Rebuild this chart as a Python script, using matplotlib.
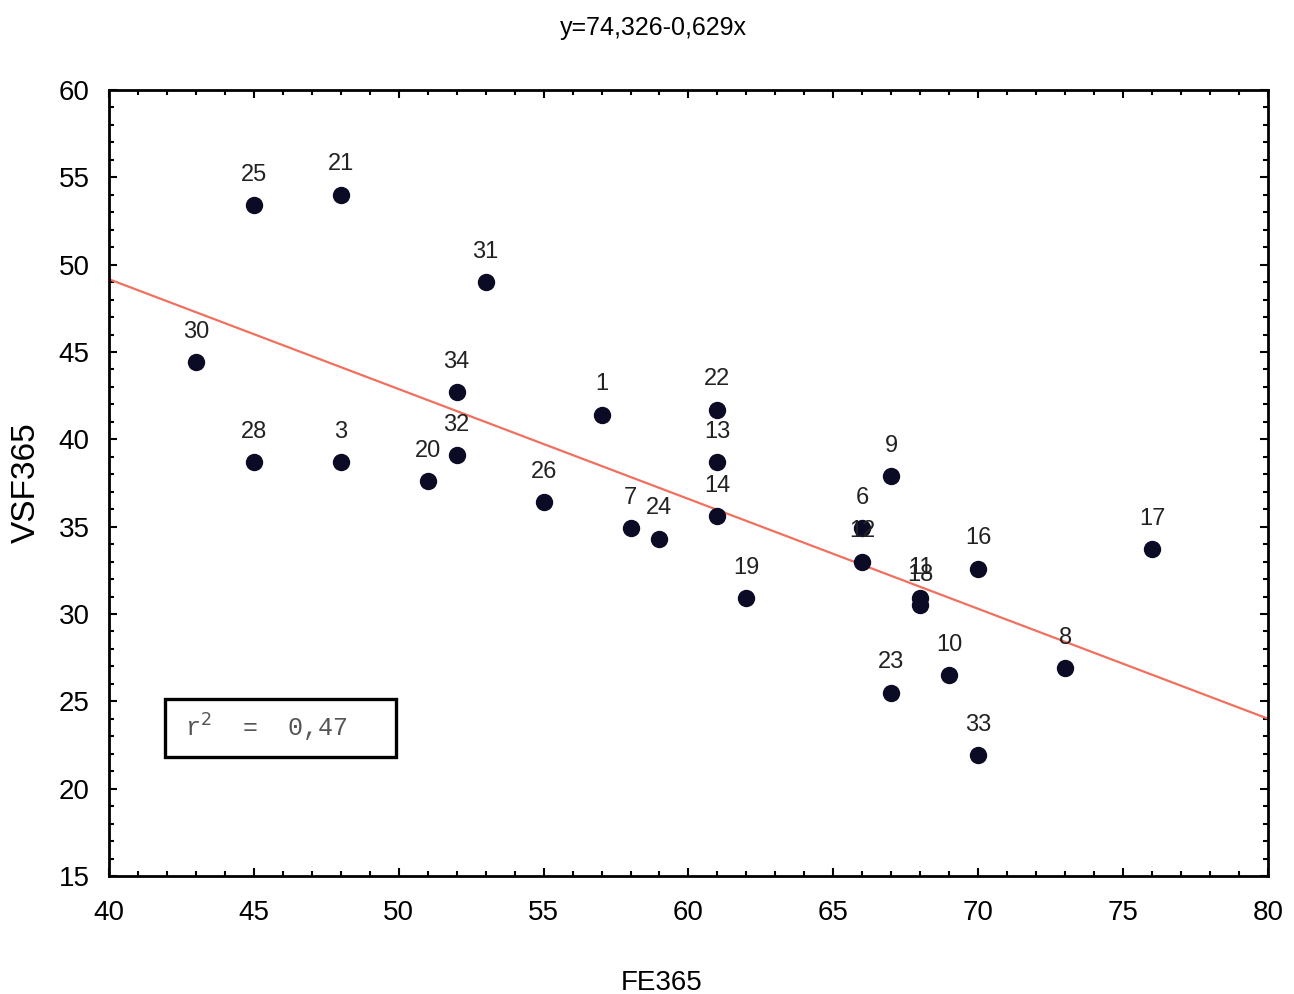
import matplotlib.pyplot as plt
from matplotlib.ticker import MultipleLocator
from matplotlib.patches import Rectangle
import numpy as np

# case numbers and values
case_ids = ["25", "21", "31", "30", "34", "1", "22", "28", "3", "32", "20", "13",
            "26", "9", "7", "24", "14", "6", "12", "19", "16", "17", "11", "18",
            "23", "10", "8", "33"]
fe365 = [45.0, 48.0, 53.0, 43.0, 52.0, 57.0, 61.0, 45.0, 48.0, 52.0, 51.0, 61.0,
         55.0, 67.0, 58.0, 59.0, 61.0, 66.0, 66.0, 62.0, 70.0, 76.0, 68.0, 68.0,
         67.0, 69.0, 73.0, 70.0]
vsf365 = [53.4, 54.0, 49.0, 44.4, 42.7, 41.4, 41.7, 38.7, 38.7, 39.1, 37.6, 38.7,
          36.4, 37.9, 34.9, 34.3, 35.6, 34.9, 33.0, 30.9, 32.6, 33.7, 30.9, 30.5,
          25.5, 26.5, 26.9, 21.9]

intercept = 74.326
slope = -0.629
r2_text = "r$^2$  =  0,47"

plt.rcParams['font.family'] = ['Liberation Sans', 'DejaVu Sans']

fig = plt.figure(figsize=(12.94, 9.94), dpi=100)
ax = fig.add_axes([0.0842, 0.1187, 0.8957, 0.7908])

ax.set_xlim(40, 80)
ax.set_ylim(15, 60)

# regression line
xl = np.array([40, 80])
ax.plot(xl, intercept + slope * xl, color="#f07060", lw=1.6, zorder=2)

ax.plot(fe365, vsf365, "o", color="#0b0b26", markersize=11.5, zorder=3)

for cid, x, y in zip(case_ids, fe365, vsf365):
    ax.annotate(cid, (x, y), xytext=(0, 14), textcoords="offset points",
                ha="center", va="bottom", fontsize=17, color="#222222", zorder=4)

ax.xaxis.set_major_locator(MultipleLocator(5))
ax.yaxis.set_major_locator(MultipleLocator(5))
ax.xaxis.set_minor_locator(MultipleLocator(1))
ax.yaxis.set_minor_locator(MultipleLocator(1))
ax.tick_params(which="both", direction="in", top=True, right=True, width=1.5)
ax.tick_params(which="major", length=6, labelsize=20)
ax.tick_params(axis="x", which="major", pad=17)
ax.tick_params(axis="y", which="major", pad=14)
ax.tick_params(which="minor", length=3.5)
for s in ax.spines.values():
    s.set_linewidth(2)

ax.set_xlabel("FE365", fontsize=20)
ax.xaxis.set_label_coords(0.477, -0.12)
ax.set_ylabel("VSF365", fontsize=24)
ax.yaxis.set_label_coords(-0.058, 0.5)
fig.text(0.505, 0.972, "y=74,326-0,629x", ha="center", va="center", fontsize=18)

# r^2 box
ax.add_patch(Rectangle((0.0483, 0.1514), 0.1993, 0.0738, transform=ax.transAxes,
                       fc="white", ec="black", lw=2.4, zorder=5))
ax.text(0.066, 0.188, r2_text, transform=ax.transAxes,
        family=["Liberation Mono", "DejaVu Sans Mono"],
        fontsize=18, color="#555555", va="center", ha="left", zorder=6)

fig.savefig("out.png", dpi=100)
